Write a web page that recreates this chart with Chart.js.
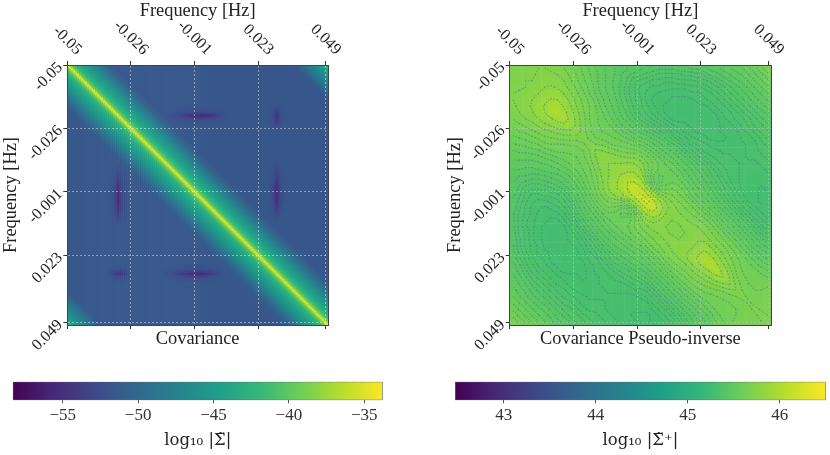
<!DOCTYPE html>
<html>
<head>
<meta charset="utf-8">
<style>
  body { margin: 0; background: #fff; width: 830px; height: 455px; overflow: hidden; position: relative; }
  canvas { position: absolute; }
</style>
<script src="https://cdn.jsdelivr.net/npm/chart.js@4"></script>
</head>
<body>
<canvas id="covChart" width="415" height="360" style="left:0;top:0"></canvas>
<canvas id="invChart" width="415" height="360" style="left:415px;top:0"></canvas>
<canvas id="covBar" width="415" height="95" style="left:0;top:360px"></canvas>
<canvas id="invBar" width="415" height="95" style="left:415px;top:360px"></canvas>
<script>
// tick labels and where they sit, in bins along a 0-100 axis
const freqLabels = ['-0.05', '-0.026', '-0.001', '0.023', '0.049'];
const freqBins = [0, 24.4, 48.8, 73.2, 99.1];

// log10 covariance, by distance from the diagonal (one entry per 2px cell)
const covBand = [
  -34.5, -37.5, -40, -41.3, -42.2, -42.9, -43.5, -44, -44.5, -45,
  -45.5, -46, -46.5, -47, -47.6, -48.2, -48.8, -49.4, -50, -50.5,
  -51, -51.3, -51.5, -51.6, -51.6, -51.6, -51.6, -51.6, -51.6, -51.6,
  -51.6, -51.6, -51.6, -51.6, -51.6, -51.6, -51.6, -51.6, -51.6, -51.6,
  -51.6, -51.6, -51.6, -51.6, -51.6, -51.6, -51.6, -51.6, -51.6, -51.6,
  -51.6, -51.6, -51.6, -51.6, -51.6, -51.6, -51.6, -51.6, -51.6, -51.6,
  -51.6, -51.6, -51.6, -51.6, -51.6, -51.6, -51.6, -51.6, -51.6, -51.6,
  -51.6, -51.6, -51.6, -51.6, -51.6, -51.6, -51.6, -51.6, -51.6, -51.6,
  -51.6, -51.6, -51.6, -51.6, -51.6, -51.6, -51.6, -51.6, -51.6, -51.6,
  -51.6, -51.6, -51.6, -51.6, -51.6, -51.6, -51.6, -51.6, -51.6, -51.6,
  -51.6, -51.6, -51.6, -51.6, -51.6, -51.6, -51.6, -51.6, -51.6, -51.6,
  -51.6, -51.6, -51.6, -51.4, -51, -50.5, -50, -49.5, -49, -48.5,
  -48, -47.5, -47, -46.5, -46, -45.4, -44.8, -44.2, -43.6, -43
];
// dark streaks in the covariance: depth below the band, along and across each streak
const dipLong = [0.3, 0.5, 0.7, 0.9, 1.1, 1.4, 1.7, 2, 2.3, 2.6, 2.9, 3.1, 3.3, 3.5, 3.6, 3.7, 3.8, 3.8, 3.7, 3.6, 3.4, 3.1, 2.8, 2.4, 2, 1.6, 1.2, 0.8, 0.5, 0.3];
const dipShort = [0.4, 0.9, 1.5, 2.1, 2.6, 2.9, 2.9, 2.6, 2.1, 1.5, 0.9, 0.4];
const dipAcross = [0.08, 0.15, 0.3, 0.6, 1, 0.6, 0.3, 0.15, 0.08];
const dipRows = [25, 104, 104];
const dipStarts = [50, 48, 20];
const dipShapes = [dipLong, dipLong, dipShort];

// log10 pseudo-inverse, upper triangle of the symmetric matrix
const invRows = [
  [45.72,45.71,45.70,45.68,45.67,45.65,45.63,45.62,45.60,45.58,45.56,45.54,45.52,45.50,45.49,45.47,45.46,45.45,45.44,45.43,45.42,45.41,45.41,45.40,45.40,45.40,45.41,45.41,45.42,45.42,45.43,45.45,45.46,45.48,45.50,45.52,45.54,45.57,45.60,45.64,45.68],
  [45.73,45.72,45.71,45.70,45.68,45.66,45.64,45.62,45.59,45.57,45.54,45.52,45.50,45.48,45.46,45.45,45.43,45.42,45.41,45.40,45.39,45.38,45.37,45.37,45.37,45.37,45.38,45.38,45.39,45.40,45.42,45.43,45.45,45.47,45.49,45.51,45.54,45.57,45.60,45.64],
  [45.74,45.74,45.73,45.72,45.70,45.67,45.64,45.60,45.57,45.54,45.52,45.49,45.47,45.45,45.43,45.42,45.40,45.38,45.37,45.36,45.35,45.35,45.34,45.34,45.35,45.35,45.35,45.36,45.37,45.38,45.40,45.42,45.44,45.46,45.48,45.51,45.54,45.57,45.60],
  [45.76,45.77,45.78,45.76,45.72,45.67,45.62,45.58,45.55,45.52,45.49,45.46,45.44,45.42,45.40,45.38,45.37,45.35,45.34,45.33,45.33,45.32,45.32,45.32,45.32,45.33,45.33,45.34,45.36,45.37,45.39,45.41,45.43,45.45,45.48,45.51,45.54,45.57],
  [45.80,45.84,45.84,45.80,45.73,45.66,45.60,45.56,45.52,45.49,45.46,45.44,45.42,45.39,45.37,45.36,45.34,45.33,45.32,45.31,45.31,45.30,45.30,45.30,45.31,45.31,45.32,45.33,45.35,45.37,45.39,45.41,45.43,45.45,45.48,45.51,45.54],
  [45.88,45.91,45.88,45.80,45.71,45.63,45.58,45.54,45.50,45.47,45.44,45.42,45.39,45.37,45.35,45.34,45.32,45.31,45.30,45.30,45.29,45.29,45.29,45.29,45.30,45.31,45.32,45.33,45.35,45.37,45.39,45.41,45.43,45.46,45.48,45.51],
  [45.96,45.96,45.87,45.76,45.67,45.60,45.55,45.51,45.47,45.44,45.42,45.39,45.37,45.35,45.33,45.32,45.31,45.30,45.29,45.29,45.28,45.28,45.28,45.29,45.29,45.30,45.32,45.33,45.35,45.37,45.39,45.41,45.43,45.46,45.48],
  [46.00,45.94,45.82,45.71,45.63,45.56,45.52,45.48,45.45,45.42,45.39,45.37,45.35,45.33,45.32,45.31,45.30,45.29,45.29,45.28,45.28,45.28,45.28,45.29,45.29,45.30,45.32,45.33,45.35,45.37,45.39,45.41,45.43,45.45],
  [45.97,45.87,45.75,45.66,45.58,45.53,45.49,45.46,45.43,45.40,45.38,45.36,45.34,45.33,45.32,45.31,45.30,45.29,45.29,45.29,45.28,45.28,45.28,45.29,45.29,45.31,45.32,45.34,45.35,45.37,45.39,45.41,45.43],
  [45.88,45.78,45.69,45.61,45.55,45.51,45.48,45.45,45.42,45.40,45.38,45.36,45.35,45.34,45.33,45.32,45.31,45.30,45.30,45.29,45.29,45.29,45.29,45.29,45.30,45.31,45.32,45.34,45.36,45.38,45.39,45.41],
  [45.78,45.71,45.64,45.58,45.54,45.51,45.48,45.45,45.43,45.41,45.39,45.38,45.37,45.36,45.35,45.33,45.32,45.31,45.30,45.29,45.29,45.29,45.29,45.30,45.30,45.31,45.33,45.34,45.36,45.38,45.39],
  [45.72,45.68,45.63,45.59,45.55,45.52,45.49,45.47,45.45,45.43,45.42,45.40,45.39,45.37,45.36,45.34,45.33,45.32,45.31,45.30,45.29,45.29,45.29,45.30,45.30,45.32,45.33,45.34,45.36,45.38],
  [45.72,45.69,45.66,45.61,45.57,45.54,45.52,45.50,45.48,45.46,45.44,45.42,45.40,45.38,45.37,45.35,45.34,45.33,45.32,45.31,45.30,45.30,45.30,45.30,45.31,45.32,45.33,45.35,45.36],
  [45.75,45.74,45.70,45.65,45.61,45.58,45.56,45.54,45.51,45.48,45.45,45.43,45.41,45.39,45.37,45.36,45.35,45.33,45.32,45.32,45.31,45.31,45.31,45.31,45.32,45.33,45.34,45.35],
  [45.78,45.78,45.74,45.70,45.66,45.64,45.60,45.56,45.52,45.49,45.46,45.44,45.42,45.40,45.38,45.36,45.35,45.34,45.33,45.32,45.32,45.31,45.31,45.32,45.32,45.33,45.34],
  [45.80,45.80,45.78,45.76,45.73,45.68,45.60,45.55,45.51,45.49,45.47,45.44,45.42,45.40,45.38,45.37,45.35,45.34,45.33,45.32,45.32,45.31,45.31,45.31,45.32,45.33],
  [45.84,45.85,45.85,45.82,45.74,45.62,45.54,45.50,45.50,45.49,45.47,45.44,45.42,45.40,45.38,45.37,45.35,45.34,45.33,45.32,45.31,45.31,45.31,45.31,45.32],
  [45.92,45.95,45.93,45.82,45.64,45.52,45.47,45.48,45.50,45.49,45.46,45.43,45.41,45.39,45.37,45.36,45.34,45.33,45.32,45.31,45.31,45.30,45.30,45.31],
  [46.05,46.06,45.96,45.72,45.55,45.48,45.48,45.51,45.50,45.48,45.45,45.42,45.40,45.38,45.36,45.35,45.33,45.32,45.31,45.30,45.30,45.30,45.30],
  [46.16,46.10,45.90,45.68,45.57,45.55,45.55,45.53,45.50,45.47,45.44,45.41,45.39,45.37,45.35,45.34,45.32,45.31,45.30,45.30,45.29,45.30],
  [46.25,46.10,45.88,45.72,45.64,45.60,45.56,45.52,45.48,45.45,45.42,45.40,45.38,45.36,45.34,45.33,45.31,45.30,45.30,45.29,45.29],
  [46.27,46.10,45.90,45.75,45.66,45.60,45.56,45.52,45.48,45.45,45.42,45.39,45.37,45.35,45.33,45.32,45.30,45.30,45.29,45.29],
  [46.15,45.98,45.80,45.72,45.65,45.60,45.56,45.52,45.48,45.45,45.42,45.39,45.37,45.35,45.33,45.32,45.31,45.30,45.30],
  [45.92,45.80,45.74,45.70,45.65,45.60,45.56,45.52,45.48,45.45,45.42,45.39,45.37,45.35,45.33,45.32,45.31,45.30],
  [45.76,45.74,45.73,45.70,45.65,45.61,45.57,45.53,45.49,45.45,45.42,45.39,45.37,45.35,45.33,45.32,45.31],
  [45.73,45.73,45.74,45.71,45.67,45.62,45.57,45.52,45.48,45.45,45.42,45.39,45.37,45.35,45.33,45.32],
  [45.73,45.74,45.75,45.72,45.67,45.61,45.56,45.52,45.48,45.45,45.42,45.39,45.37,45.35,45.34],
  [45.74,45.76,45.77,45.73,45.66,45.60,45.55,45.51,45.48,45.45,45.42,45.39,45.37,45.36],
  [45.78,45.82,45.82,45.74,45.66,45.60,45.55,45.51,45.47,45.44,45.41,45.39,45.38],
  [45.86,45.92,45.84,45.73,45.65,45.59,45.54,45.50,45.47,45.44,45.42,45.40],
  [45.97,45.95,45.82,45.71,45.63,45.57,45.53,45.49,45.47,45.44,45.43],
  [46.00,45.92,45.79,45.68,45.60,45.55,45.52,45.49,45.47,45.46],
  [45.97,45.87,45.74,45.64,45.58,45.54,45.52,45.50,45.49],
  [45.90,45.80,45.68,45.61,45.57,45.54,45.52,45.51],
  [45.81,45.73,45.65,45.60,45.57,45.55,45.54],
  [45.74,45.69,45.63,45.60,45.58,45.57],
  [45.71,45.67,45.63,45.61,45.60],
  [45.70,45.67,45.64,45.63],
  [45.71,45.68,45.66],
  [45.71,45.69],
  [45.72]
];
// correction to the rows above, by distance from the diagonal: the ridge reads wider
const invRidgeLift = [0, 0, 0.02, 0.05, 0.07, 0.09, 0.1, 0.1, 0.09, 0.08, 0.07, 0.06, 0.05, 0.04, 0.03, 0.02, 0.01];
// the fine dark fringes of the pseudo-inverse follow these levels
const invLevels = [
  45.295, 45.315, 45.335, 45.355, 45.375, 45.395, 45.415, 45.44, 45.47, 45.505, 45.54,
  45.575, 45.61, 45.65, 45.69, 45.74, 45.8, 45.9, 46.05, 46.2
];

// colour bar ranges and ticks
const covRange = [-58.32, -33.78];
const covTicks = [-55, -50, -45, -40, -35];
const invRange = [42.47, 46.5];
const invTicks = [43, 44, 45, 46];
const viridis = ['#440154', '#482878', '#3e4989', '#31688e', '#26828e', '#1f9e89', '#35b779', '#6ece58', '#b5de2b', '#fde725'];

const serif = 'Liberation Serif';
const mathSerif = 'DejaVu Serif';
const inkColor = '#222';

function hexToRgb(h) {
  return [1, 3, 5].map(i => parseInt(h.slice(i, i + 2), 16));
}

function colorFor(value, range) {
  const t = Math.min(1, Math.max(0, (value - range[0]) / (range[1] - range[0]))) * (viridis.length - 1);
  const i = Math.min(viridis.length - 2, Math.floor(t));
  const a = hexToRgb(viridis[i]), b = hexToRgb(viridis[i + 1]);
  const c = a.map((v, k) => Math.round(v + (b[k] - v) * (t - i)));
  return `rgb(${c[0]},${c[1]},${c[2]})`;
}

// covariance matrix: band lookup, then the streaks on both sides of the diagonal
const covN = covBand.length;
const covMatrix = [];
for (let r = 0; r < covN; r++) {
  covMatrix.push([]);
  for (let c = 0; c < covN; c++) covMatrix[r].push(covBand[Math.abs(r - c)]);
}
dipRows.forEach((row, k) => {
  dipShapes[k].forEach((depth, n) => {
    dipAcross.forEach((w, m) => {
      const r = row + m - 4, c = dipStarts[k] + n;
      covMatrix[r][c] -= depth * w;
      covMatrix[c][r] -= depth * w;
    });
  });
});

// pseudo-inverse matrix from its upper triangle
const invN = invRows.length;
const invMatrix = [];
for (let r = 0; r < invN; r++) {
  invMatrix.push([]);
  for (let c = 0; c < invN; c++) {
    const d = Math.abs(r - c);
    const v = c >= r ? invRows[r][d] : invRows[c][d];
    invMatrix[r].push(v + (invRidgeLift[d] || 0));
  }
}

function cellDataset(matrix, range, side) {
  const n = matrix.length;
  const data = [], colors = [];
  for (let r = 0; r < n; r++) {
    for (let c = 0; c < n; c++) {
      data.push({ x: (c + 0.5) * 100 / n, y: (r + 0.5) * 100 / n });
      colors.push(colorFor(matrix[r][c], range));
    }
  }
  return {
    data: data,
    parsing: false,
    backgroundColor: colors,
    borderWidth: 0,
    pointStyle: 'rect',
    pointRadius: side / Math.SQRT2,
    xAxisID: 'xTop',
    yAxisID: 'yLeft'
  };
}

// level lines of the matrix (marching squares over the cell centres)
function contourDataset(matrix, levels) {
  const n = matrix.length;
  const pts = [];
  const at = (i) => (i + 0.5) * 100 / n;
  levels.forEach(level => {
    for (let r = 0; r < n - 1; r++) {
      for (let c = 0; c < n - 1; c++) {
        const v = [matrix[r][c], matrix[r][c + 1], matrix[r + 1][c + 1], matrix[r + 1][c]];
        const cross = [];
        const edge = (a, b, x0, y0, x1, y1) => {
          if ((v[a] < level) !== (v[b] < level)) {
            const f = (level - v[a]) / (v[b] - v[a]);
            cross.push({ x: at(x0 + (x1 - x0) * f), y: at(y0 + (y1 - y0) * f) });
          }
        };
        edge(0, 1, c, r, c + 1, r);
        edge(1, 2, c + 1, r, c + 1, r + 1);
        edge(3, 2, c, r + 1, c + 1, r + 1);
        edge(0, 3, c, r, c, r + 1);
        for (let k = 0; k + 1 < cross.length; k += 2) {
          pts.push(cross[k], cross[k + 1], { x: null, y: null });
        }
      }
    }
  });
  // left to parse: the points are not sorted by x, and parsing:false would claim they are
  return {
    data: pts,
    showLine: true,
    spanGaps: false,
    pointRadius: 0,
    borderColor: 'rgba(60,130,130,0.55)',
    borderWidth: 1.3,
    borderDash: [1.2, 1.6],
    xAxisID: 'xTop',
    yAxisID: 'yLeft'
  };
}

// the top labels are centred on their tick, which the axis itself can not do when rotated
const topLabels = {
  id: 'topLabels',
  afterDraw(chart) {
    const scale = chart.scales.xTop;
    const ctx = chart.ctx;
    ctx.save();
    ctx.font = `16px "${serif}"`;
    ctx.fillStyle = inkColor;
    ctx.textAlign = 'center';
    ctx.textBaseline = 'middle';
    scale.ticks.forEach((tick, i) => {
      const w = ctx.measureText(tick.label).width;
      const y = 57 - (w + 13) * Math.SQRT1_2 / 2;
      ctx.save();
      ctx.translate(scale.getPixelForTick(i), y);
      ctx.rotate(Math.PI / 4);
      ctx.fillText(tick.label, 0, 0);
      ctx.restore();
    });
    ctx.restore();
  }
};

function panelScales(box, title) {
  const useFreqTicks = scale => { scale.ticks = freqBins.map(v => ({ value: v })); };
  const frame = { color: '#444', width: 1, z: 2 };
  const dashedFrame = { color: '#444', width: 1, z: 2, dash: [2, 2] };
  const titleFont = { family: serif, size: 18.4 };
  const grid = {
    z: 1,
    color: box.gridColor,
    lineWidth: 1,
    tickColor: '#333',
    tickLength: 4
  };
  return {
    xTop: {
      axis: 'x', type: 'linear', position: 'top', min: 0, max: 100,
      afterBuildTicks: useFreqTicks,
      afterFit: s => { s.height = 65; },
      grid: grid,
      border: dashedFrame,
      ticks: { display: false, autoSkip: false, callback: (v, i) => freqLabels[i] },
      title: { display: true, text: 'Frequency [Hz]', color: inkColor, font: titleFont, padding: { top: 0, bottom: 5 } }
    },
    xBottom: {
      axis: 'x', type: 'linear', position: 'bottom', min: 0, max: 100,
      afterBuildTicks: useFreqTicks,
      afterFit: s => { s.height = 35; },
      grid: { drawOnChartArea: false, tickColor: '#333', tickLength: 4 },
      border: frame,
      ticks: { display: false, autoSkip: false },
      title: { display: true, text: title, color: inkColor, font: titleFont, padding: { top: 0, bottom: 10 } }
    },
    yLeft: {
      axis: 'y', type: 'linear', position: 'left', reverse: true, min: 0, max: 100,
      afterBuildTicks: useFreqTicks,
      afterFit: s => { s.width = box.axisWidth; },
      grid: grid,
      border: dashedFrame,
      ticks: {
        autoSkip: false, minRotation: 45, maxRotation: 45, padding: 3, color: inkColor,
        font: { family: serif, size: 16 },
        callback: (v, i) => freqLabels[i]
      },
      title: { display: true, text: 'Frequency [Hz]', color: inkColor, font: titleFont, padding: { top: 0, bottom: box.titleGap } }
    },
    yRight: {
      axis: 'y', type: 'linear', position: 'right', min: 0, max: 100,
      afterFit: s => { s.width = 0; },
      grid: { drawOnChartArea: false, drawTicks: false },
      border: frame,
      ticks: { display: false }
    }
  };
}

function panelChart(id, datasets, box, title) {
  return new Chart(document.getElementById(id), {
    type: 'scatter',
    data: { datasets: datasets },
    plugins: [topLabels],
    options: {
      responsive: false,
      animation: false,
      events: [],
      layout: { padding: { left: box.left, right: box.right, top: 0, bottom: 0 } },
      plugins: { legend: { display: false }, tooltip: { enabled: false } },
      scales: panelScales(box, title)
    }
  });
}

function colorBar(id, range, ticks, text, box) {
  return new Chart(document.getElementById(id), {
    type: 'bar',
    data: {
      labels: [''],
      datasets: [{
        data: [range],
        barPercentage: 1,
        categoryPercentage: 1,
        borderWidth: 1,
        borderColor: '#666',
        borderSkipped: false,
        backgroundColor: c => {
          const area = c.chart.chartArea;
          if (!area) return viridis[0];
          const g = c.chart.ctx.createLinearGradient(area.left, 0, area.right, 0);
          viridis.forEach((col, i) => g.addColorStop(i / (viridis.length - 1), col));
          return g;
        }
      }]
    },
    options: {
      indexAxis: 'y',
      responsive: false,
      animation: false,
      events: [],
      layout: { padding: { left: box.left, right: box.right, top: 21.7, bottom: 0 } },
      plugins: { legend: { display: false }, tooltip: { enabled: false } },
      scales: {
        y: { display: false },
        x: {
          type: 'linear', position: 'bottom', min: range[0], max: range[1],
          afterBuildTicks: s => { s.ticks = ticks.map(v => ({ value: v })); },
          afterFit: s => { s.height = 54.7; },
          grid: { drawOnChartArea: false, tickColor: '#555', tickLength: 3 },
          border: { display: false },
          ticks: {
            autoSkip: false, maxRotation: 0, padding: 2, color: '#333',
            font: { family: serif, size: 17 },
            callback: v => String(v).replace('-', '\u2212')
          },
          title: { display: true, text: text, color: inkColor, font: { family: mathSerif, size: 16.5 }, padding: { top: 0, bottom: 4 } }
        }
      }
    }
  });
}

panelChart('covChart', [cellDataset(covMatrix, covRange, 2.6)],
  { left: 0, right: 87, axisWidth: 67.3, titleGap: 6, gridColor: 'rgba(255,255,255,0.45)' }, 'Covariance');
panelChart('invChart', [contourDataset(invMatrix, invLevels), cellDataset(invMatrix, invRange, 6.9)],
  { left: 29, right: 59, axisWidth: 65.7, titleGap: 9, gridColor: 'rgba(190,190,190,0.6)' }, 'Covariance Pseudo-inverse');
colorBar('covBar', covRange, covTicks, 'log\u2081\u2080 |\u03A3\u0303|', { left: 12.7, right: 32.3 });
colorBar('invBar', invRange, invTicks, 'log\u2081\u2080 |\u03A3\u0303\u207A|', { left: 40, right: 4.3 });
</script>
</body>
</html>
